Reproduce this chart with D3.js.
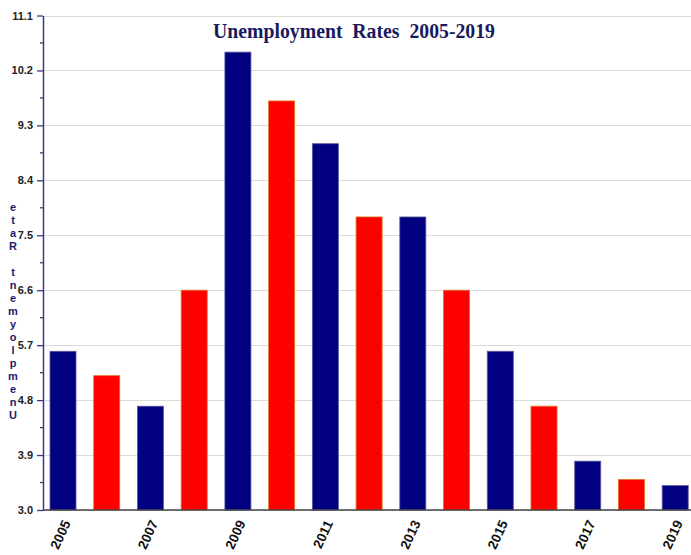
<!DOCTYPE html>
<html><head><meta charset="utf-8">
<script src="https://cdn.jsdelivr.net/npm/d3@7"></script>
<style>
html,body{margin:0;padding:0;background:#fff;}
svg{display:block;}
</style></head>
<body>
<svg id="chart" width="691" height="555"></svg>
<script>
const years = ["2005","2006","2007","2008","2009","2010","2011","2012","2013","2014","2015","2016","2017","2018","2019"];
const rates = [5.6, 5.2, 4.7, 6.6, 10.5, 9.7, 9.0, 7.8, 7.8, 6.6, 5.6, 4.7, 3.8, 3.5, 3.4];
const yTicks = [3.0, 3.9, 4.8, 5.7, 6.6, 7.5, 8.4, 9.3, 10.2, 11.1];
const xLabels = ["2005","2007","2009","2011","2013","2015","2017","2019"];
const titleText = "Unemployment  Rates  2005-2019";
const yTitle = "Unemployment Rate";
const barColors = ["#000080", "#ff0000"];
const barStrokes = ["#5a5a9a", "#e0701a"];

const svg = d3.select("#chart");
const mLeft = 43, mRight = 695.2, mTop = 15.5, mBottom = 510;

const x = d3.scaleBand().domain(years).range([mLeft, mRight]).paddingInner(0.405).paddingOuter(0.16);
const y = d3.scaleLinear().domain([3.0, 11.1]).range([mBottom, mTop]);

// gridlines
svg.append("g").selectAll("line").data(yTicks).join("line")
  .attr("x1", mLeft).attr("x2", 691)
  .attr("y1", d => Math.round(y(d)) + 0.5).attr("y2", d => Math.round(y(d)) + 0.5)
  .attr("stroke", "#dcdcdc").attr("stroke-width", 1.2);

// bars
svg.append("g").selectAll("rect").data(years).join("rect")
  .attr("x", d => x(d))
  .attr("width", x.bandwidth())
  .attr("y", (d, i) => y(rates[i]))
  .attr("height", (d, i) => mBottom - y(rates[i]))
  .attr("fill", (d, i) => barColors[i % 2])
  .attr("stroke", (d, i) => barStrokes[i % 2])
  .attr("stroke-width", 0.8);

// y axis
const minor = d3.range(0, yTicks.length - 1).map(i => (yTicks[i] + yTicks[i + 1]) / 2);
const yAxis = svg.append("g").attr("transform", `translate(${mLeft},0)`)
  .call(d3.axisLeft(y).tickValues(yTicks).tickFormat(d3.format(".1f")).tickSize(6).tickSizeOuter(0));
yAxis.select(".domain").attr("stroke", "#3a3a80").attr("stroke-width", 1.5);
yAxis.selectAll(".tick line").attr("stroke", "#3a3a80").attr("stroke-width", 1.3);
yAxis.selectAll(".tick text").attr("x", -10).attr("fill", "#222")
  .style("font-family", "'Liberation Sans', Arial, sans-serif").style("font-weight", "bold").style("font-size", "11px");
svg.append("g").attr("transform", `translate(${mLeft},0)`)
  .selectAll("line").data(minor).join("line")
  .attr("x1", -3).attr("x2", 0).attr("y1", d => y(d)).attr("y2", d => y(d))
  .attr("stroke", "#3a3a80").attr("stroke-width", 1.3);

// x baseline
svg.append("line").attr("x1", mLeft).attr("x2", 691).attr("y1", mBottom).attr("y2", mBottom)
  .attr("stroke", "#444").attr("stroke-width", 1.6);

// x labels
const xAxis = svg.append("g").attr("transform", `translate(0,${mBottom})`)
  .call(d3.axisBottom(x).tickValues(xLabels).tickSize(0));
xAxis.select(".domain").remove();
xAxis.selectAll(".tick text")
  .attr("text-anchor", "end")
  .attr("x", 0).attr("y", 0).attr("dy", "0")
  .attr("transform", "translate(8,13) rotate(-65)")
  .attr("fill", "#111")
  .style("font-family", "'Liberation Sans', Arial, sans-serif").style("font-weight", "bold").style("font-size", "13.5px");

// title
svg.append("text").attr("x", 354).attr("y", 38).attr("text-anchor", "middle")
  .attr("textLength", 282).attr("lengthAdjust", "spacingAndGlyphs")
  .attr("fill", "#1a1a5e")
  .style("font-family", "'Liberation Serif', 'Times New Roman', serif").style("font-weight", "bold").style("font-size", "20px")
  .style("white-space", "pre")
  .text(titleText);

// y title: stacked letters reading bottom to top
const letters = yTitle.split("");
const step = 13;
svg.append("g").selectAll("text").data(letters).join("text")
  .attr("x", 13).attr("y", (d, i) => 419 - i * step)
  .attr("text-anchor", "middle")
  .attr("fill", "#1a1a6e")
  .style("font-family", "'Liberation Sans', Arial, sans-serif").style("font-weight", "bold").style("font-size", "11px")
  .text(d => d);
</script>
</body></html>
